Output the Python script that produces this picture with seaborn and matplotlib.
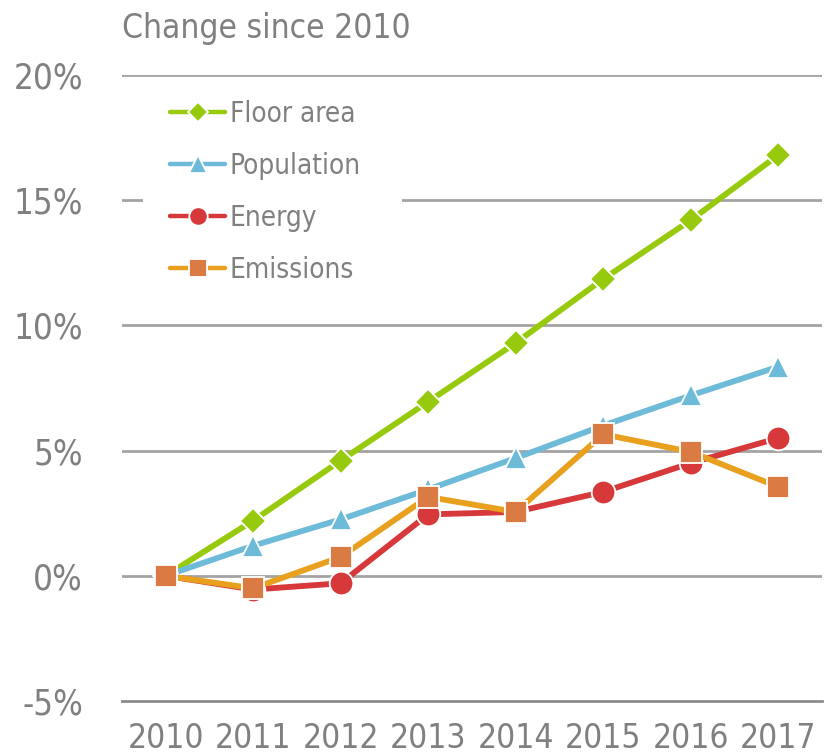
import numpy as np
import pandas as pd
import matplotlib
matplotlib.use("Agg")
import matplotlib.pyplot as plt
from matplotlib.patches import Rectangle
import seaborn as sns

# data (% change since 2010)
years = ["2010", "2011", "2012", "2013", "2014", "2015", "2016", "2017"]
floor_area = [0.0, 2.2, 4.6, 6.95, 9.3, 11.85, 14.2, 16.8]
population = [0.0, 1.2, 2.25, 3.45, 4.7, 6.0, 7.2, 8.35]
energy = [0.0, -0.55, -0.3, 2.45, 2.55, 3.35, 4.5, 5.5]
emissions = [0.0, -0.5, 0.75, 3.15, 2.55, 5.65, 4.95, 3.55]
y_ticks = [-5, 0, 5, 10, 15, 20]

sns.set_theme(style="white")
plt.rcParams["font.family"] = ["DejaVu Sans"]
plt.rcParams["font.stretch"] = "condensed"

grey = "#808080"
pos = np.arange(len(years))

fig = plt.figure(figsize=(8.29, 7.56), dpi=100)
ax = fig.add_axes([0.147, 0.0728, 0.8445, 0.828])

series = [
    ("Floor area", floor_area, "#97c90c", "#97c90c", "D", 13),
    ("Population", population, "#6dbad9", "#6dbad9", "^", 16),
    ("Energy", energy, "#d7393a", "#d7393a", "o", 17),
    ("Emissions", emissions, "#e8a01e", "#d97b43", "s", 16),
]
for name, vals, lc, fc, mk, ms in series:
    sns.lineplot(x=pos, y=vals, ax=ax, color=lc, linewidth=4.2, marker=mk,
                 markersize=ms, markerfacecolor=fc, markeredgecolor="white",
                 markeredgewidth=1.3, label=name, zorder=3)

for t in y_ticks[1:]:
    ax.axhline(t, color="#a3a3a3", linewidth=2, zorder=1)

ax.set_xlim(-0.5, len(years) - 0.5)
ax.set_ylim(-5, 20)
ax.set_yticks(y_ticks)
ax.set_yticklabels([f"{t}%" for t in y_ticks])
ax.set_xticks(pos)
ax.set_xticklabels(years)
ax.set_xticks(np.arange(len(years) + 1) - 0.5, minor=True)
ax.tick_params(axis="x", which="major", length=0, pad=15, labelsize=24, labelcolor=grey)
ax.tick_params(axis="x", which="minor", length=10, width=2, color="#8c8c8c", direction="out")
ax.tick_params(axis="y", length=0, pad=28, labelsize=25, labelcolor=grey)
ax.set_xlabel("")
ax.set_ylabel("")

for s in ["top", "right", "left"]:
    ax.spines[s].set_visible(False)
ax.spines["bottom"].set_color("#8c8c8c")
ax.spines["bottom"].set_linewidth(2)

# white block behind the legend (hides part of the 15% gridline)
ax.add_patch(Rectangle((0.03, 0.65), 0.37, 0.33, transform=ax.transAxes,
                       facecolor="white", edgecolor="none", zorder=2))

leg = ax.legend(loc="upper left", bbox_to_anchor=(0.0686, 0.96), frameon=False,
                fontsize=20, labelcolor=grey, handlelength=2.0, handletextpad=0.15,
                labelspacing=0.86, borderpad=0, borderaxespad=0, markerscale=0.78)
leg.set_zorder(5)
for ln in leg.get_lines():
    ln.set_linewidth(3.2)

fig.text(0.147, 0.962, "Change since 2010", fontsize=24, color=grey, ha="left", va="center")

fig.savefig("out.png", dpi=100)
